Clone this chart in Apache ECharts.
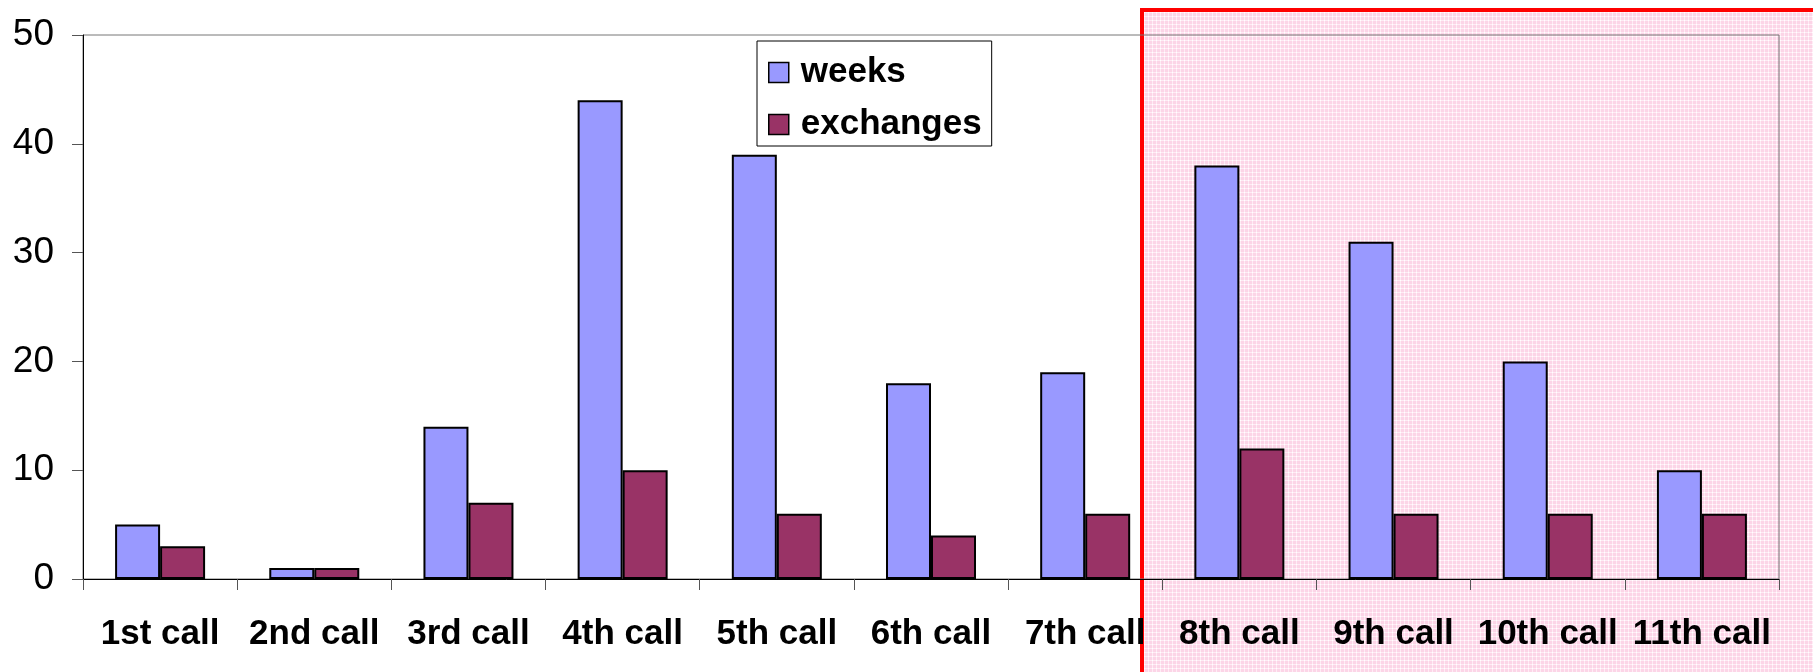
<!DOCTYPE html>
<html>
<head>
<meta charset="utf-8">
<script src="https://cdn.jsdelivr.net/npm/echarts@6/dist/echarts.min.js"></script>
<style>
html,body{margin:0;padding:0;background:#fff;}
#chart{width:1813px;height:672px;}
</style>
</head>
<body>
<div id="chart"></div>
<script>
const categories = ['1st call','2nd call','3rd call','4th call','5th call','6th call','7th call','8th call','9th call','10th call','11th call'];
const weeks = [5, 1, 14, 44, 39, 18, 19, 38, 31, 20, 10];
const exchanges = [3, 1, 7, 10, 6, 4, 6, 12, 6, 6, 6];
const seriesNames = ['weeks', 'exchanges'];

// pink checked pattern for highlighted region
const pc = document.createElement('canvas');
pc.width = 4; pc.height = 4;
const g = pc.getContext('2d');
g.fillStyle = '#fcd5e7'; g.fillRect(0,0,4,4);
g.fillStyle = '#ffecf5'; g.fillRect(0,0,4,1); g.fillRect(0,0,1,4);
g.fillStyle = '#ffffff'; g.fillRect(0,0,1,1);

const chart = echarts.init(document.getElementById('chart'), null, {renderer:'canvas'});
const font = '"Liberation Sans", Arial, sans-serif';
chart.setOption({
  animation: false,
  backgroundColor: '#ffffff',
  graphic: [{
    type: 'rect', z: -10, silent: true,
    shape: {x: 1142, y: 10, width: 800, height: 800},
    style: {fill: {image: pc, repeat: 'repeat'}, stroke: '#ff0000', lineWidth: 4}
  }],
  grid: {left: 83, right: 34, top: 35, bottom: 93, show: true, borderColor: '#777777', borderWidth: 1, backgroundColor: 'transparent'},
  legend: {
    orient: 'vertical', left: 757, top: 41,
    data: seriesNames,
    backgroundColor: '#ffffff', borderColor: '#000000', borderWidth: 1,
    padding: [14, 10, 4, 11],
    itemGap: 17, itemWidth: 20, itemHeight: 20,
    icon: 'rect',
    itemStyle: {borderColor: '#000', borderWidth: 1.5},
    textStyle: {fontFamily: font, fontWeight: 'bold', fontSize: 35, color: '#000', padding: [0,0,0,7]}
  },
  xAxis: {
    type: 'category', data: categories,
    axisLine: {lineStyle: {color: '#000', width: 1}},
    axisTick: {show: true, length: 11, lineStyle: {color: '#555'}},
    axisLabel: {fontFamily: font, fontWeight: 'bold', fontSize: 35, color: '#000', margin: 38, interval: 0}
  },
  yAxis: {
    type: 'value', min: 0, max: 50, interval: 10,
    axisLine: {show: true, lineStyle: {color: '#000', width: 1}},
    axisTick: {show: true, length: 11, lineStyle: {color: '#555'}},
    splitLine: {show: false},
    axisLabel: {fontFamily: font, fontSize: 37, color: '#000', margin: 29}
  },
  series: [
    {name: seriesNames[0], type: 'bar', data: weeks, barWidth: 45, barGap: '0%',
     itemStyle: {color: '#9999ff', borderColor: '#000', borderWidth: 2}},
    {name: seriesNames[1], type: 'bar', data: exchanges, barWidth: 45, barGap: '0%',
     itemStyle: {color: '#993366', borderColor: '#000', borderWidth: 2}}
  ]
});
</script>
</body>
</html>
